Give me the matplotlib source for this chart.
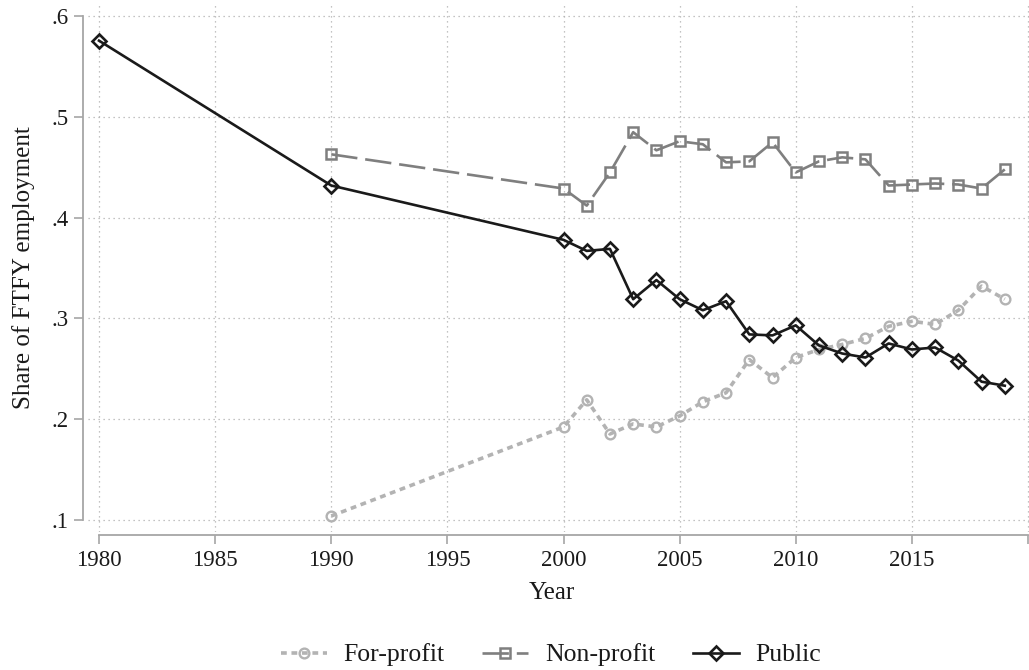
import matplotlib
matplotlib.use("Agg")
import matplotlib.pyplot as plt

# Years and shares of FTFY employment by sector
YEARS_FP = [1990, 2000, 2001, 2002, 2003, 2004, 2005, 2006, 2007, 2008, 2009,
            2010, 2011, 2012, 2013, 2014, 2015, 2016, 2017, 2018, 2019]
FOR_PROFIT = [0.1035, 0.192, 0.219, 0.185, 0.195, 0.192, 0.203, 0.217, 0.226, 0.259,
              0.241, 0.261, 0.269, 0.274, 0.280, 0.292, 0.297, 0.294, 0.308, 0.332, 0.319]

YEARS_NP = YEARS_FP
NON_PROFIT = [0.463, 0.429, 0.412, 0.445, 0.485, 0.467, 0.476, 0.473, 0.455, 0.456, 0.475,
              0.445, 0.456, 0.460, 0.458, 0.432, 0.433, 0.434, 0.433, 0.429, 0.448]

YEARS_PUB = [1980] + YEARS_FP
PUBLIC = [0.576, 0.432, 0.378, 0.367, 0.369, 0.319, 0.338, 0.319, 0.308, 0.317, 0.284,
          0.283, 0.293, 0.273, 0.265, 0.261, 0.275, 0.269, 0.271, 0.258, 0.237, 0.233]

X_TICKS = [1980, 1985, 1990, 1995, 2000, 2005, 2010, 2015, 2020]
X_LABELS = ["1980", "1985", "1990", "1995", "2000", "2005", "2010", "2015", ""]
Y_TICKS = [0.1, 0.2, 0.3, 0.4, 0.5, 0.6]
Y_LABELS = [".1", ".2", ".3", ".4", ".5", ".6"]

plt.rcParams["font.family"] = ["Liberation Serif", "DejaVu Serif"]

W, H = 1029, 670
fig = plt.figure(figsize=(W / 100, H / 100), dpi=100)
ax = fig.add_axes([88 / W, 1 - 531.5 / H, (W - 88) / W, (531.5 - 5) / H])

spine_col = "#a6a6a6"
grid_col = "#b0b0b0"
text_col = "#1a1a1a"

# Series
ax.plot(YEARS_FP, FOR_PROFIT, color="#b3b3b3", lw=2.6, dashes=(1.6, 1.3),
        marker="o", ms=7, mfc="none", mec="#b3b3b3", mew=1.7, label="For-profit", zorder=3)
ax.plot(YEARS_NP, NON_PROFIT, color="#7f7f7f", lw=1.9, dashes=(10, 3),
        marker="s", ms=7.5, mfc="none", mec="#7f7f7f", mew=1.8, label="Non-profit", zorder=3)
ax.plot(YEARS_PUB, PUBLIC, color="#1a1a1a", lw=1.9,
        marker="D", ms=7, mfc="none", mec="#1a1a1a", mew=1.9, label="Public", zorder=4)

# Axes limits (1980 at 99px, 2020 at 1028px; .6 at 16.5px, .1 at 519.5px)
px_per_year = (1028 - 99) / 40
ax.set_xlim(1980 - (99 - 88) / px_per_year, 2020 + (W - 1028) / px_per_year)
px_per_unit = (519.5 - 16.5) / 0.5
ax.set_ylim(0.1 - (531.5 - 519.5) / px_per_unit, 0.6 + (16.5 - 5) / px_per_unit)

ax.set_xticks(X_TICKS)
ax.set_xticklabels(X_LABELS)
ax.set_yticks(Y_TICKS)
ax.set_yticklabels(Y_LABELS)
ax.tick_params(axis="both", colors=spine_col, labelcolor=text_col, labelsize=16.5,
               length=6.5, width=1.2)
ax.tick_params(axis="x", pad=4)
ax.tick_params(axis="y", pad=4)

ax.grid(True, color=grid_col, lw=0.9, linestyle=(0, (1, 3)))

for side in ["top", "right"]:
    ax.spines[side].set_visible(False)
ax.spines["left"].set_position(("outward", 3.6))
ax.spines["bottom"].set_position(("outward", 2.5))
ax.spines["left"].set_bounds(0.1, 0.6)
ax.spines["bottom"].set_bounds(1980, 2020)
for side in ["left", "bottom"]:
    ax.spines[side].set_color(spine_col)
    ax.spines[side].set_linewidth(1.3)

fig.text(24 / W, 1 - 268 / H, "Share of FTFY employment", rotation=90,
         ha="center", va="center", fontsize=18, color=text_col)
fig.text(552 / W, 1 - 593 / H, "Year", ha="center", va="center",
         fontsize=18, color=text_col)

fig.legend(loc="center", bbox_to_anchor=(551 / W, 1 - 655 / H), ncol=3, frameon=False,
           fontsize=18.5, handlelength=1.8, handletextpad=0.65, columnspacing=1.45,
           labelcolor=text_col)

fig.savefig("out.png", dpi=100)
